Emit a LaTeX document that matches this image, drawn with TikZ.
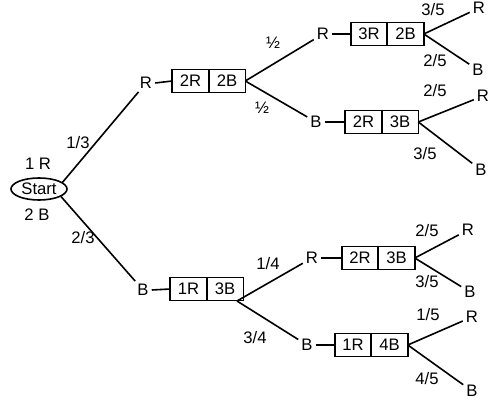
\documentclass[tikz,border=0pt]{standalone}
\usepackage{fontspec}
\setmainfont{Liberation Sans}
\usetikzlibrary{shapes.geometric,positioning}
\begin{document}
\begin{tikzpicture}[x=0.75pt,y=-0.75pt,
  every node/.style={font=\fontsize{12.5}{14}\selectfont},
  ln/.style={line width=1.2pt},
  letter/.style={inner sep=2.2pt},
  prob/.style={inner sep=0pt},
  cell/.style={draw,line width=1.2pt,minimum width=27.4pt,minimum height=17pt,inner sep=0pt,outer sep=0pt},
  startnode/.style={draw,ellipse,line width=1.2pt,minimum width=42pt,minimum height=16.5pt,inner sep=0pt}]
\useasboundingbox (0,0) rectangle (493,406);
% start
\node[startnode] (start) at (39,189) {Start};
\node[prob] (n1R) at (38,164) {1 R};
\node[prob] (n2B) at (37,215) {2 B};
% first level
\node[letter] (r1) at (146,83) {R};
\node[letter] (b1) at (143,290) {B};
\draw[ln] (start.16) -- (r1);
\draw[ln] (start.-19) -- (b1);
\node[prob] (p13) at (78,143) {1/3};
\node[prob] (p23) at (83,238) {2/3};
% box 1
\node[cell] (bx1l) at (190.5,81) {2R};
\node[cell,right=0pt of bx1l] (bx1r) {2B};
\draw[ln] (r1.east) -- (bx1l.west);
% box 4
\node[cell] (bx4l) at (188.5,289) {1R};
\node[cell,right=0pt of bx4l] (bx4r) {3B};
\draw[ln] (b1.east) -- (bx4l.west);
% second level upper
\node[letter] (r2) at (323,34) {R};
\node[letter] (b2) at (316,122) {B};
\draw[ln] (bx1r.east) -- (r2);
\draw[ln] (bx1r.east) -- (b2);
\node[prob] (ph1) at (273,43) {½};
\node[prob] (ph2) at (262,108) {½};
% second level lower
\coordinate (bp4) at (237,301);
\node[letter] (r5) at (312,258) {R};
\node[letter] (b5) at (307,345) {B};
\draw[ln] (bp4) -- (r5);
\draw[ln] (bp4) -- (b5);
\node[prob] (p14) at (268,264) {1/4};
\node[prob] (p34) at (255,338) {3/4};
% box 2
\node[cell] (bx2l) at (369,34) {3R};
\node[cell,right=0pt of bx2l] (bx2r) {2B};
\draw[ln] (r2.east) -- (bx2l.west);
% box 3
\node[cell] (bx3l) at (363.5,122) {2R};
\node[cell,right=0pt of bx3l] (bx3r) {3B};
\draw[ln] (b2.east) -- (bx3l.west);
% box 5
\node[cell] (bx5l) at (360,258) {2R};
\node[cell,right=0pt of bx5l] (bx5r) {3B};
\draw[ln] (r5.east) -- (bx5l.west);
% box 6
\node[cell] (bx6l) at (353,345) {1R};
\node[cell,right=0pt of bx6l] (bx6r) {4B};
\draw[ln] (b5.east) -- (bx6l.west);
% third level
\node[letter] (r3) at (479,8) {R};
\node[letter] (b3) at (478,70) {B};
\draw[ln] (bx2r.east) -- (r3);
\draw[ln] (bx2r.east) -- (b3);
\node[prob] (p35a) at (433,10) {3/5};
\node[prob] (p25a) at (435,61) {2/5};
\node[letter] (r4) at (483,96) {R};
\node[letter] (b4) at (481,170) {B};
\draw[ln] (bx3r.east) -- (r4);
\draw[ln] (bx3r.east) -- (b4);
\node[prob] (p25b) at (435,91) {2/5};
\node[prob] (p35b) at (425,154) {3/5};
\node[letter] (r6) at (468,230) {R};
\node[letter] (b6) at (470,292) {B};
\draw[ln] (bx5r.east) -- (r6);
\draw[ln] (bx5r.east) -- (b6);
\node[prob] (p25c) at (427,231) {2/5};
\node[prob] (p35c) at (427,282) {3/5};
\node[letter] (r7) at (472,317) {R};
\node[letter] (b7) at (472,391) {B};
\draw[ln] (bx6r.east) -- (r7);
\draw[ln] (bx6r.east) -- (b7);
\node[prob] (p15) at (428,315) {1/5};
\node[prob] (p45) at (427,379) {4/5};
\end{tikzpicture}
\end{document}
